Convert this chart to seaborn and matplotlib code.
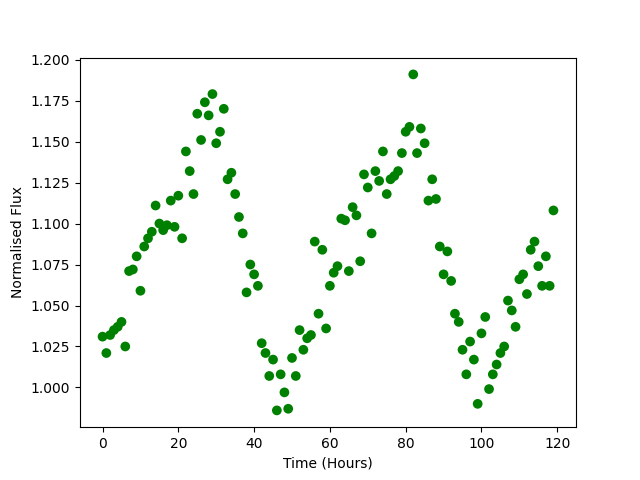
import matplotlib
matplotlib.use("Agg")
import matplotlib.pyplot as plt
import matplotlib.ticker as mticker
import seaborn as sns
import pandas as pd

hours = list(range(120))
flux = [
    1.031, 1.021, 1.032, 1.035, 1.037, 1.040, 1.025, 1.071, 1.072, 1.080,
    1.059, 1.086, 1.091, 1.095, 1.111, 1.100, 1.096, 1.099, 1.114, 1.098,
    1.117, 1.091, 1.144, 1.132, 1.118, 1.167, 1.151, 1.174, 1.166, 1.179,
    1.149, 1.156, 1.170, 1.127, 1.131, 1.118, 1.104, 1.094, 1.058, 1.075,
    1.069, 1.062, 1.027, 1.021, 1.007, 1.017, 0.986, 1.008, 0.997, 0.987,
    1.018, 1.007, 1.035, 1.023, 1.030, 1.032, 1.089, 1.045, 1.084, 1.036,
    1.062, 1.070, 1.074, 1.103, 1.102, 1.071, 1.110, 1.105, 1.077, 1.130,
    1.122, 1.094, 1.132, 1.126, 1.144, 1.118, 1.127, 1.129, 1.132, 1.143,
    1.156, 1.159, 1.191, 1.143, 1.158, 1.149, 1.114, 1.127, 1.115, 1.086,
    1.069, 1.083, 1.065, 1.045, 1.040, 1.023, 1.008, 1.028, 1.017, 0.990,
    1.033, 1.043, 0.999, 1.008, 1.014, 1.021, 1.025, 1.053, 1.047, 1.037,
    1.066, 1.069, 1.057, 1.084, 1.089, 1.074, 1.062, 1.080, 1.062, 1.108,
]

df = pd.DataFrame({"Time (Hours)": hours, "Normalised Flux": flux})

fig, ax = plt.subplots(figsize=(6.4, 4.8), dpi=100)
sns.scatterplot(data=df, x="Time (Hours)", y="Normalised Flux", ax=ax,
                color="green", s=49, linewidth=0, edgecolor="none")
ax.yaxis.set_major_locator(mticker.MultipleLocator(0.025))
ax.yaxis.set_major_formatter(mticker.FormatStrFormatter("%.3f"))
ax.set_xlabel("Time (Hours)")
ax.set_ylabel("Normalised Flux")
fig.savefig("out.png", dpi=100)
